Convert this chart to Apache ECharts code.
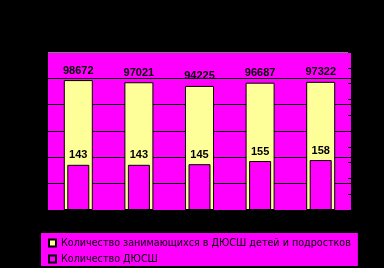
<!DOCTYPE html>
<html>
<head>
<meta charset="utf-8">
<script src="https://cdn.jsdelivr.net/npm/echarts@6/dist/echarts.min.js"></script>
<style>
html,body{margin:0;padding:0;background:#000;}
#c{width:384px;height:268px;}
</style>
</head>
<body>
<div id="c"></div>
<script>
var categories = ['1', '2', '3', '4', '5'];
var seriesNames = ['Количество занимающихся в ДЮСШ детей и подростков', 'Количество ДЮСШ'];
var pupils = [98672, 97021, 94225, 96687, 97322];
var schools = [143, 143, 145, 155, 158];

var chart = echarts.init(document.getElementById('c'), null, {renderer: 'canvas'});
chart.setOption({
  backgroundColor: '#000000',
  animation: false,
  grid: {
    left: 48, top: 52, width: 303, height: 158,
    show: true, backgroundColor: '#FF00FF', borderWidth: 0
  },
  legend: {
    orient: 'vertical',
    left: 41, top: 233,
    backgroundColor: '#FF00FF',
    padding: [4, 7, 1, 7],
    itemGap: 4,
    itemWidth: 7, itemHeight: 7,
    icon: 'rect',
    textStyle: {fontFamily: 'DejaVu Sans', fontSize: 9.6, color: '#000', lineHeight: 12},
    data: seriesNames
  },
  xAxis: [
    {type: 'category', data: categories, gridIndex: 0,
     axisLine: {show: false}, axisTick: {show: false}, axisLabel: {show: false}},
    {type: 'category', data: categories, gridIndex: 0, position: 'bottom',
     axisLine: {show: false}, axisTick: {show: false}, axisLabel: {show: false}}
  ],
  yAxis: [
    {type: 'value', min: 0, max: 120000, interval: 20000,
     axisLine: {show: false}, axisTick: {show: false}, axisLabel: {show: false},
     splitLine: {show: true, lineStyle: {color: ['#000', '#000', '#000', '#000', '#000', '#000', '#808080'], width: 1}}},
    {type: 'value', min: 0, max: 500, interval: 50, position: 'right',
     axisLine: {show: false},
     axisTick: {show: true, inside: true, length: 3, lineStyle: {color: '#000'}},
     axisLabel: {show: false}, splitLine: {show: false}}
  ],
  series: [
    {name: seriesNames[0], type: 'bar', xAxisIndex: 0, yAxisIndex: 0, data: pupils,
     barWidth: 29,
     itemStyle: {color: '#FFFF99', borderColor: '#000', borderWidth: 1},
     label: {show: true, position: 'top', distance: 4, color: '#000',
             fontFamily: 'Liberation Sans', fontWeight: 'bold', fontSize: 11}},
    {name: seriesNames[1], type: 'bar', xAxisIndex: 1, yAxisIndex: 1, data: schools,
     barWidth: 22,
     itemStyle: {color: '#FF00FF', borderColor: '#000', borderWidth: 1},
     label: {show: true, position: 'top', distance: 4, color: '#000',
             fontFamily: 'Liberation Sans', fontWeight: 'bold', fontSize: 11}}
  ]
});
</script>
</body>
</html>
